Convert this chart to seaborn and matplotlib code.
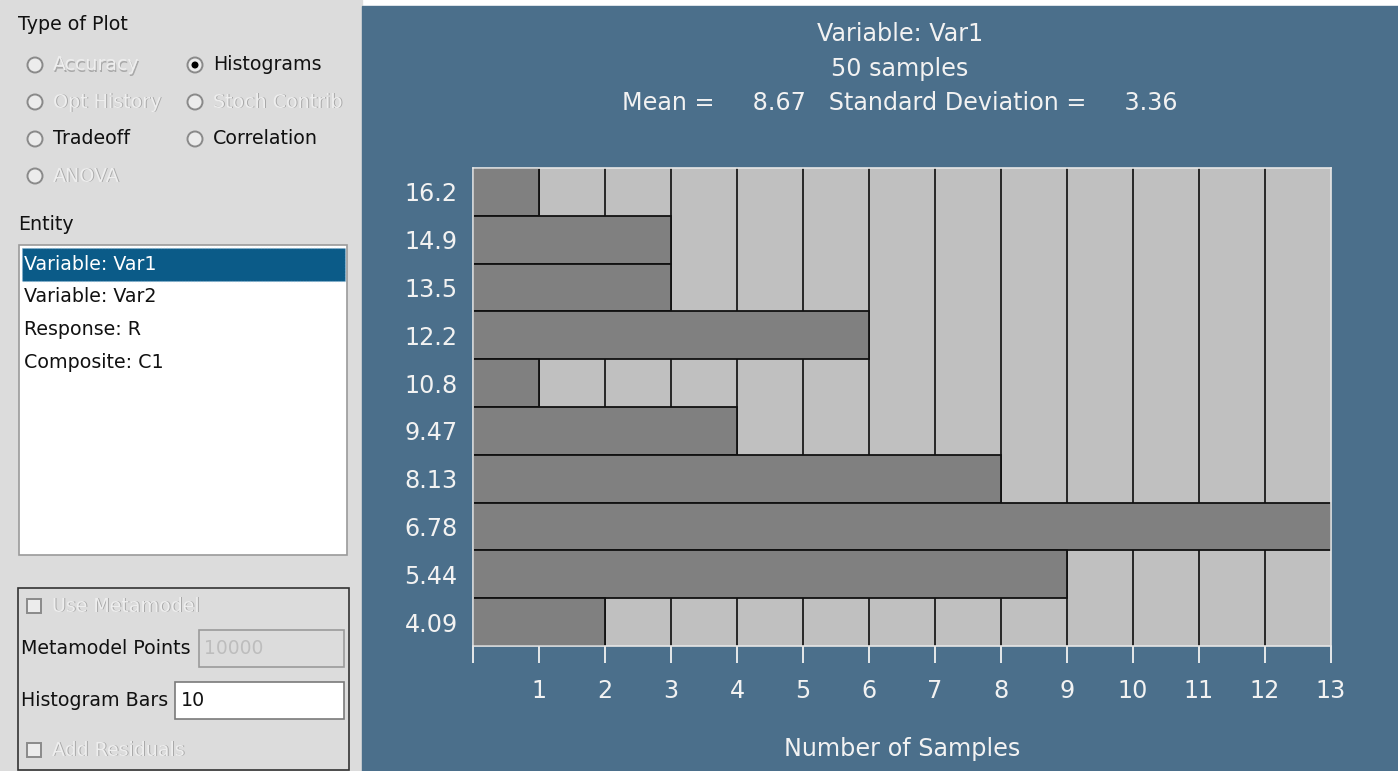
import matplotlib
matplotlib.use("Agg")
import matplotlib.pyplot as plt
import matplotlib.patches as mpatches
import seaborn as sns
import pandas as pd

# -----------------------------
# DATA
# -----------------------------
bin_labels = ["16.2", "14.9", "13.5", "12.2", "10.8", "9.47", "8.13", "6.78", "5.44", "4.09"]
bin_counts = [1, 3, 3, 6, 1, 4, 8, 13, 9, 2]
x_ticks = list(range(0, 14))
x_tick_labels = [""] + [str(i) for i in range(1, 14)]

title_lines = ["Variable: Var1", "50 samples",
               "Mean =     8.67   Standard Deviation =     3.36"]
x_label = "Number of Samples"

plot_types = [("Accuracy", False, False), ("Histograms", True, True),
              ("Opt History", False, False), ("Stoch Contrib", False, False),
              ("Tradeoff", True, False), ("Correlation", True, False),
              ("ANOVA", False, False)]
entities = ["Variable: Var1", "Variable: Var2", "Response: R", "Composite: C1"]

df = pd.DataFrame({"bin": bin_labels, "count": bin_counts})

# -----------------------------
# STYLE
# -----------------------------
sns.set_theme(style="white")
plt.rcParams["font.family"] = ["DejaVu Sans"]

W, H = 1398, 771
fig = plt.figure(figsize=(W / 100, H / 100), dpi=100)
fig.patch.set_facecolor("white")

BLUE = "#4b6f8b"
PANEL = "#dcdcdc"
TXT = "#f2f2f2"
DIS = "#eeeeee"
FS = 17.2   # plot panel text size
LS = 13.7   # left panel text size

# background canvas in pixel coordinates
bg = fig.add_axes([0, 0, 1, 1], zorder=0)
bg.set_xlim(0, W)
bg.set_ylim(H, 0)
bg.axis("off")

bg.add_patch(mpatches.Rectangle((0, 0), 362, H, color=PANEL))
bg.add_patch(mpatches.Rectangle((362, 6), W - 362, H - 6, color=BLUE))


def label(x, y, s, enabled=True, size=LS):
    if enabled:
        bg.text(x, y, s, fontsize=size, color="#111111", va="center", ha="left")
    else:
        bg.text(x + 1, y + 1, s, fontsize=size, color="#a9a9a9", va="center", ha="left")
        bg.text(x, y, s, fontsize=size, color=DIS, va="center", ha="left")


def radio(x, y, selected):
    bg.add_patch(mpatches.Circle((x, y), 7.5, facecolor="#ececec", edgecolor="#8a8a8a", lw=1.4))
    if selected:
        bg.add_patch(mpatches.Circle((x, y), 2.8, color="black"))


def checkbox(x, y):
    bg.add_patch(mpatches.Rectangle((x - 7, y - 7), 14, 14, facecolor="#ececec",
                                    edgecolor="#8a8a8a", lw=1.4))


# -----------------------------
# LEFT PANEL
# -----------------------------
label(18, 25, "Type of Plot")
rows_y = [65, 65, 102, 102, 139, 139, 176]
cols_x = [35, 195, 35, 195, 35, 195, 35]
for (name, enabled, sel), rx, ry in zip(plot_types, cols_x, rows_y):
    radio(rx, ry, sel)
    label(rx + 18, ry, name, enabled)

label(18, 225, "Entity")
bg.add_patch(mpatches.Rectangle((19, 245), 328, 310, facecolor="white",
                                edgecolor="#9a9a9a", lw=1.2))
bg.add_patch(mpatches.Rectangle((22, 248), 323, 33, facecolor="#0b5b88",
                                edgecolor="#7fb0d0", lw=0.8, ls=":"))
for i, ent in enumerate(entities):
    bg.text(24, 264 + i * 32.7, ent, fontsize=LS, va="center", ha="left",
            color="white" if i == 0 else "#111111")

bg.add_patch(mpatches.Rectangle((18, 588), 331, 182, facecolor="none",
                                edgecolor="#333333", lw=1.2))
checkbox(34, 606)
label(52, 606, "Use Metamodel", False)
label(21, 648, "Metamodel Points")
bg.add_patch(mpatches.Rectangle((199, 630), 145, 37, facecolor=PANEL,
                                edgecolor="#9a9a9a", lw=1.2))
bg.text(204, 648, "10000", fontsize=13.5, color="#bdbdbd", va="center")
label(21, 700, "Histogram Bars")
bg.add_patch(mpatches.Rectangle((175, 682), 169, 37, facecolor="white",
                                edgecolor="#7a7a7a", lw=1.2))
bg.text(181, 700, "10", fontsize=LS, color="#111111", va="center")
checkbox(34, 750)
label(52, 750, "Add Residuals", False)

# -----------------------------
# HISTOGRAM
# -----------------------------
ax = fig.add_axes([473 / W, 1 - 646 / H, (1331 - 473) / W, (646 - 168) / H], zorder=2)
ax.set_facecolor("#c0c0c0")
for v in x_ticks[1:-1]:
    ax.axvline(v, color="#1a1a1a", lw=1.3, zorder=0)

sns.barplot(data=df, x="count", y="bin", order=bin_labels, orient="h",
            color="#808080", saturation=1, width=1.0, edgecolor="#111111",
            linewidth=1.3, ax=ax, zorder=2)

ax.set_xlim(0, 13)
ax.set_xticks(x_ticks)
ax.set_xticklabels(x_tick_labels)
ax.tick_params(axis="x", direction="out", length=12, width=1.3, colors=TXT,
               labelsize=FS, pad=12, bottom=True)
ax.tick_params(axis="y", length=0, labelsize=FS, labelcolor=TXT, pad=11)
ax.set_xlabel("")
ax.set_ylabel("")
for sp in ax.spines.values():
    sp.set_color("#e6e6e6")
    sp.set_linewidth(1.2)

cx = 900
for y, line in zip([34, 69, 103], title_lines):
    bg.text(cx, y, line, fontsize=FS, color=TXT, ha="center", va="center")
bg.text(902, 749, x_label, fontsize=FS, color=TXT, ha="center", va="center")

fig.savefig("out.png", dpi=100)
